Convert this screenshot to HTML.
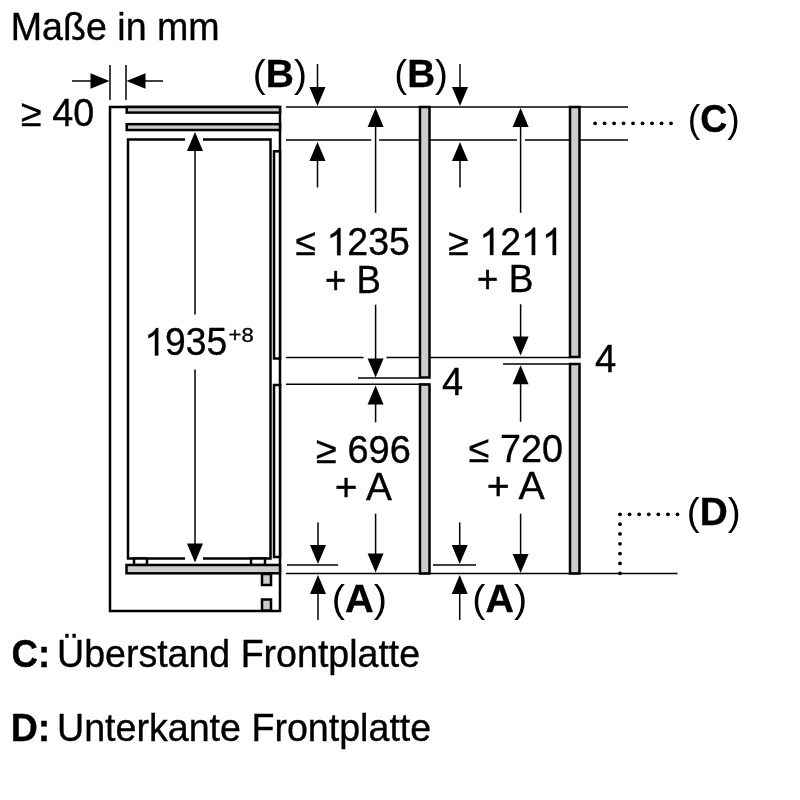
<!DOCTYPE html>
<html><head><meta charset="utf-8"><style>
html,body{margin:0;padding:0;background:#fff;}
svg{display:block;will-change:transform;}
text{font-family:"Liberation Sans",sans-serif;fill:#000;stroke:#000;stroke-width:0.35px;}
</style></head><body>
<svg width="800" height="800" viewBox="0 0 800 800">
<rect width="800" height="800" fill="#fff"/>
<line x1="110" y1="65" x2="110" y2="100" stroke="#000" stroke-width="1.5"/>
<line x1="126" y1="65" x2="126" y2="100" stroke="#000" stroke-width="1.5"/>
<line x1="72" y1="81" x2="92" y2="81" stroke="#000" stroke-width="1.5"/>
<path d="M90.5 73.25V88.75L109.5 81Z"/>
<line x1="144" y1="81" x2="163" y2="81" stroke="#000" stroke-width="1.5"/>
<path d="M145.5 73.25V88.75L126.5 81Z"/>
<rect x="110" y="107" width="170" height="504" fill="none" stroke="#000" stroke-width="2.5"/>
<rect x="126.7" y="107" width="153.3" height="5.599999999999994" fill="#cccccc" stroke="#000" stroke-width="2.5"/>
<rect x="126.7" y="124.2" width="153.3" height="5.799999999999997" fill="#cccccc" stroke="#000" stroke-width="2.5"/>
<path d="M185 139.5H128V558.5H185M203 558.5H270.5V139.5H203" fill="none" stroke="#000" stroke-width="2.5"/>
<rect x="274" y="151.3" width="6" height="207.2" fill="#fff" stroke="#000" stroke-width="2.5"/>
<rect x="274" y="385" width="6" height="172" fill="#fff" stroke="#000" stroke-width="2.5"/>
<rect x="134" y="558.5" width="13" height="6.5" fill="#fff" stroke="#000" stroke-width="2.5"/>
<rect x="251" y="558.5" width="14" height="6.5" fill="#fff" stroke="#000" stroke-width="2.5"/>
<rect x="126.5" y="565" width="153.5" height="8.299999999999955" fill="#cccccc" stroke="#000" stroke-width="2.5"/>
<rect x="262" y="574" width="9" height="11" fill="#cccccc" stroke="#000" stroke-width="2.5"/>
<rect x="262" y="599.5" width="9" height="11.0" fill="#cccccc" stroke="#000" stroke-width="2.5"/>
<line x1="195" y1="140" x2="195" y2="314.5" stroke="#000" stroke-width="1.5"/>
<line x1="195" y1="369.5" x2="195" y2="550" stroke="#000" stroke-width="1.5"/>
<path d="M187 151H203L195 132Z"/>
<path d="M187 543.5H203L195 562.5Z"/>
<line x1="286" y1="107" x2="628" y2="107" stroke="#000" stroke-width="1.5"/>
<path d="M286 139.9H371.3M379 139.9H517M525 139.9H628" stroke="#000" stroke-width="1.5" fill="none"/>
<line x1="317.5" y1="64" x2="317.5" y2="90" stroke="#000" stroke-width="1.5"/>
<path d="M309.5 87H325.5L317.5 106Z"/>
<path d="M309.5 161H325.5L317.5 142Z"/>
<line x1="317.5" y1="155" x2="317.5" y2="187.5" stroke="#000" stroke-width="1.5"/>
<line x1="460" y1="64" x2="460" y2="90" stroke="#000" stroke-width="1.5"/>
<path d="M452 87H468L460 106Z"/>
<path d="M452 161H468L460 142Z"/>
<line x1="460" y1="155" x2="460" y2="187.5" stroke="#000" stroke-width="1.5"/>
<line x1="375.6" y1="120" x2="375.6" y2="212.8" stroke="#000" stroke-width="1.5"/>
<path d="M367.6 127H383.6L375.6 108Z"/>
<line x1="375.6" y1="304.7" x2="375.6" y2="365" stroke="#000" stroke-width="1.5"/>
<path d="M367.6 358.5H383.6L375.6 377.5Z"/>
<line x1="520.6" y1="120" x2="520.6" y2="212.8" stroke="#000" stroke-width="1.5"/>
<path d="M512.6 127H528.6L520.6 108Z"/>
<line x1="520.6" y1="304.2" x2="520.6" y2="345" stroke="#000" stroke-width="1.5"/>
<path d="M512.6 336.6H528.6L520.6 355.6Z"/>
<rect x="420" y="107" width="9.5" height="270.5" fill="#cccccc" stroke="#000" stroke-width="2.5"/>
<rect x="420" y="384.5" width="9.5" height="189.0" fill="#cccccc" stroke="#000" stroke-width="2.5"/>
<rect x="570" y="107" width="9.5" height="250" fill="#cccccc" stroke="#000" stroke-width="2.5"/>
<rect x="570" y="364" width="9.5" height="209.5" fill="#cccccc" stroke="#000" stroke-width="2.5"/>
<path d="M286 357.5H363.5M386.5 357.5H420M430 357.5H570" stroke="#000" stroke-width="1.5" fill="none"/>
<line x1="358" y1="378" x2="420" y2="378" stroke="#000" stroke-width="1.5"/>
<line x1="286" y1="384.3" x2="430" y2="384.3" stroke="#000" stroke-width="1.5"/>
<line x1="503" y1="364" x2="580" y2="364" stroke="#000" stroke-width="1.5"/>
<path d="M367.6 404.5H383.6L375.6 385.5Z"/>
<line x1="375.6" y1="400" x2="375.6" y2="422.3" stroke="#000" stroke-width="1.5"/>
<line x1="375.6" y1="513.75" x2="375.6" y2="560" stroke="#000" stroke-width="1.5"/>
<path d="M367.6 553.4H383.6L375.6 572.4Z"/>
<path d="M512.6 384.3H528.6L520.6 365.3Z"/>
<line x1="520.6" y1="380" x2="520.6" y2="421.8" stroke="#000" stroke-width="1.5"/>
<line x1="520.6" y1="513.75" x2="520.6" y2="560" stroke="#000" stroke-width="1.5"/>
<path d="M512.6 553.9H528.6L520.6 572.9Z"/>
<line x1="286" y1="573.5" x2="677.5" y2="573.5" stroke="#000" stroke-width="1.5"/>
<line x1="287" y1="565" x2="338" y2="565" stroke="#000" stroke-width="1.5"/>
<line x1="433" y1="565" x2="476" y2="565" stroke="#000" stroke-width="1.5"/>
<line x1="318" y1="522.4" x2="318" y2="550" stroke="#000" stroke-width="1.5"/>
<path d="M310 545H326L318 564Z"/>
<path d="M310 594H326L318 575Z"/>
<line x1="318" y1="590" x2="318" y2="620" stroke="#000" stroke-width="1.5"/>
<line x1="459.7" y1="522.4" x2="459.7" y2="550" stroke="#000" stroke-width="1.5"/>
<path d="M451.7 545H467.7L459.7 564Z"/>
<path d="M451.7 594H467.7L459.7 575Z"/>
<line x1="459.7" y1="590" x2="459.7" y2="620" stroke="#000" stroke-width="1.5"/>
<circle cx="595.10" cy="123.3" r="1.9"/>
<circle cx="604.59" cy="123.3" r="1.9"/>
<circle cx="614.08" cy="123.3" r="1.9"/>
<circle cx="623.57" cy="123.3" r="1.9"/>
<circle cx="633.06" cy="123.3" r="1.9"/>
<circle cx="642.55" cy="123.3" r="1.9"/>
<circle cx="652.04" cy="123.3" r="1.9"/>
<circle cx="661.53" cy="123.3" r="1.9"/>
<circle cx="671.02" cy="123.3" r="1.9"/>
<circle cx="620.00" cy="514.3" r="1.9"/>
<circle cx="629.58" cy="514.3" r="1.9"/>
<circle cx="639.16" cy="514.3" r="1.9"/>
<circle cx="648.74" cy="514.3" r="1.9"/>
<circle cx="658.32" cy="514.3" r="1.9"/>
<circle cx="667.90" cy="514.3" r="1.9"/>
<circle cx="677.48" cy="514.3" r="1.9"/>
<circle cx="620" cy="524.13" r="1.9"/>
<circle cx="620" cy="533.96" r="1.9"/>
<circle cx="620" cy="543.79" r="1.9"/>
<circle cx="620" cy="553.62" r="1.9"/>
<circle cx="620" cy="563.45" r="1.9"/>
<circle cx="620" cy="573.28" r="1.9"/>
<g class="t" transform="translate(10.72 40.00) scale(0.9903 1)"><text font-size="38">Maße in mm</text></g>
<g class="t" transform="translate(21.01 126.40) scale(0.9931 1)"><text font-size="38">≥ 40</text></g>
<g class="t" transform="translate(144.35 355.40) scale(0.9804 1)"><text font-size="38"> 935</text><path transform="translate(0.00 0) scale(0.01855 -0.01855)" d="M763 0H583V1147Q518 1085 412.5 1023T223 930V1104Q375 1175 489 1276T650 1472H763Z" stroke="#000" stroke-width="18.9"/></g>
<g class="t" transform="translate(228.57 342.30) scale(1.1030 1)"><text font-size="20">+8</text></g>
<g class="t" transform="translate(252.68 87.20) scale(1.0273 1)"><text font-size="38"><tspan style="stroke-width:0">(</tspan><tspan font-weight="bold">B</tspan><tspan style="stroke-width:0">)</tspan></text></g>
<g class="t" transform="translate(394.26 87.20) scale(1.0190 1)"><text font-size="38"><tspan style="stroke-width:0">(</tspan><tspan font-weight="bold">B</tspan><tspan style="stroke-width:0">)</tspan></text></g>
<g class="t" transform="translate(295.51 255.20) scale(0.9868 1)"><text font-size="38">≤  235</text><path transform="translate(31.41 0) scale(0.01855 -0.01855)" d="M763 0H583V1147Q518 1085 412.5 1023T223 930V1104Q375 1175 489 1276T650 1472H763Z" stroke="#000" stroke-width="18.9"/></g>
<g class="t" transform="translate(325.06 293.00) scale(0.9600 1)"><text font-size="38">+ B</text></g>
<g class="t" transform="translate(448.25 255.00) scale(0.9890 1)"><text font-size="38">≥  2  </text><path transform="translate(31.41 0) scale(0.01855 -0.01855)" d="M763 0H583V1147Q518 1085 412.5 1023T223 930V1104Q375 1175 489 1276T650 1472H763Z" stroke="#000" stroke-width="18.9"/><path transform="translate(73.68 0) scale(0.01855 -0.01855)" d="M763 0H583V1147Q518 1085 412.5 1023T223 930V1104Q375 1175 489 1276T650 1472H763Z" stroke="#000" stroke-width="18.9"/><path transform="translate(94.81 0) scale(0.01855 -0.01855)" d="M763 0H583V1147Q518 1085 412.5 1023T223 930V1104Q375 1175 489 1276T650 1472H763Z" stroke="#000" stroke-width="18.9"/></g>
<g class="t" transform="translate(476.83 292.00) scale(0.9747 1)"><text font-size="38">+ B</text></g>
<g class="t" transform="translate(442.00 395.00)"><text font-size="38">4</text></g>
<g class="t" transform="translate(594.99 371.70) scale(1.0071 1)"><text font-size="38">4</text></g>
<g class="t" transform="translate(316.00 462.60)"><text font-size="38">≥ 696</text></g>
<g class="t" transform="translate(334.69 499.60) scale(1.0233 1)"><text font-size="38">+ A</text></g>
<g class="t" transform="translate(468.79 462.00) scale(0.9927 1)"><text font-size="38">≤ 720</text></g>
<g class="t" transform="translate(486.65 499.40) scale(1.0361 1)"><text font-size="38">+ A</text></g>
<g class="t" transform="translate(331.66 612.20) scale(1.0480 1)"><text font-size="38"><tspan style="stroke-width:0">(</tspan><tspan font-weight="bold">A</tspan><tspan style="stroke-width:0">)</tspan></text></g>
<g class="t" transform="translate(472.30 612.20) scale(1.0383 1)"><text font-size="38"><tspan style="stroke-width:0">(</tspan><tspan font-weight="bold">A</tspan><tspan style="stroke-width:0">)</tspan></text></g>
<g class="t" transform="translate(687.71 132.00) scale(0.9864 1)"><text font-size="38"><tspan style="stroke-width:0">(</tspan><tspan font-weight="bold">C</tspan><tspan style="stroke-width:0">)</tspan></text></g>
<g class="t" transform="translate(686.83 525.00) scale(1.0213 1)"><text font-size="38"><tspan style="stroke-width:0">(</tspan><tspan font-weight="bold">D</tspan><tspan style="stroke-width:0">)</tspan></text></g>
<g class="t" transform="translate(11.54 667.30) scale(0.9665 1)"><text font-size="38"><tspan font-weight="bold">C:</tspan></text></g>
<g class="t" transform="translate(57.04 666.70) scale(0.9883 1)"><text font-size="38">Überstand Frontplatte</text></g>
<g class="t" transform="translate(10.73 741.05) scale(0.9886 1)"><text font-size="38"><tspan font-weight="bold">D:</tspan></text></g>
<g class="t" transform="translate(57.03 741.05) scale(0.9900 1)"><text font-size="38">Unterkante Frontplatte</text></g>
</svg>
</body></html>
